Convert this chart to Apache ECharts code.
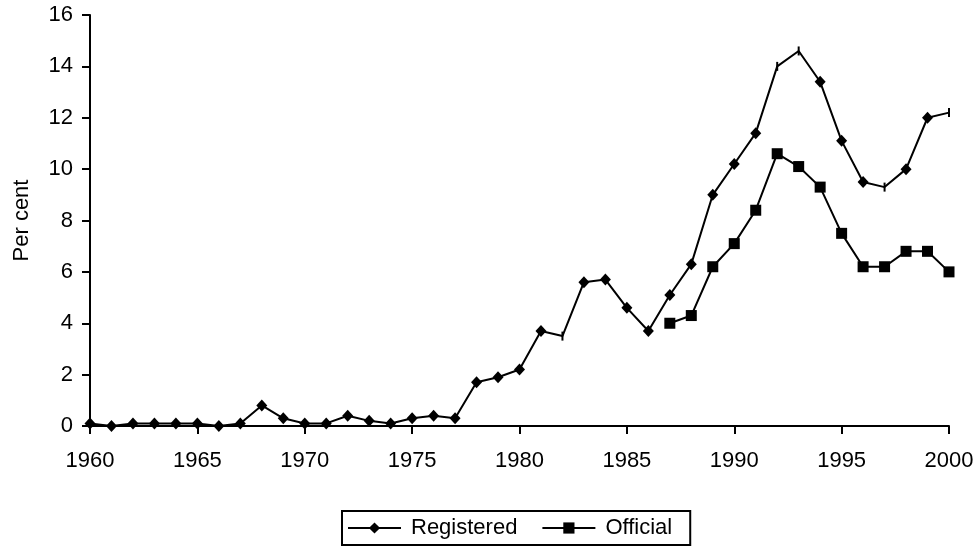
<!DOCTYPE html>
<html>
<head>
<meta charset="utf-8">
<script src="https://cdn.jsdelivr.net/npm/echarts@6/dist/echarts.min.js"></script>
<style>html,body{margin:0;padding:0;background:#fff}#c{width:980px;height:546px}</style>
</head>
<body>
<div id="c"></div>
<script>
const years = [1960,1961,1962,1963,1964,1965,1966,1967,1968,1969,1970,1971,1972,1973,1974,1975,1976,1977,1978,1979,1980,1981,1982,1983,1984,1985,1986,1987,1988,1989,1990,1991,1992,1993,1994,1995,1996,1997,1998,1999,2000];
const registered = [0.1,0.0,0.1,0.1,0.1,0.1,0.0,0.1,0.8,0.3,0.1,0.1,0.4,0.2,0.1,0.3,0.4,0.3,1.7,1.9,2.2,3.7,3.5,5.6,5.7,4.6,3.7,5.1,6.3,9.0,10.2,11.4,14.0,14.6,13.4,11.1,9.5,9.3,10.0,12.0,12.2];
const officialYears = [1987,1988,1989,1990,1991,1992,1993,1994,1995,1996,1997,1998,1999,2000];
const official = [4.0,4.3,6.2,7.1,8.4,10.6,10.1,9.3,7.5,6.2,6.2,6.8,6.8,6.0];
const xTicks = [1960,1965,1970,1975,1980,1985,1990,1995,2000];
const yTicks = [0,2,4,6,8,10,12,14,16];
const seriesNames = ['Registered','Official'];
const yTitle = 'Per cent';

// markers that render as thin vertical ticks in the reference
const thinMarkYears = [1982,1992,1993,1997,2000];

const font = '"Liberation Sans", Arial, sans-serif';
const fs = 22;
const regData = years.map((y,i)=>{
  const d = {value:[y, registered[i]]};
  if (thinMarkYears.indexOf(y) >= 0) { d.symbol = 'rect'; d.symbolSize = [2,9]; }
  return d;
});
const offData = officialYears.map((y,i)=>[y, official[i]]);

const chart = echarts.init(document.getElementById('c'), null, {renderer:'canvas'});
chart.setOption({
  animation:false,
  backgroundColor:'#fff',
  textStyle:{fontFamily:font, color:'#000'},
  grid:{left:90, right:31, top:15, bottom:120, containLabel:false},
  xAxis:{
    type:'value', min:xTicks[0], max:xTicks[xTicks.length-1], interval:5,
    axisLine:{onZero:false, lineStyle:{color:'#000', width:2}},
    axisTick:{show:true, inside:false, length:8, lineStyle:{color:'#000', width:2}},
    axisLabel:{color:'#000', fontSize:fs, fontFamily:font, margin:24, formatter:v=>String(v)},
    splitLine:{show:false}
  },
  yAxis:{
    type:'value', min:yTicks[0], max:yTicks[yTicks.length-1], interval:2,
    name:yTitle, nameLocation:'middle', nameGap:57, nameRotate:90,
    nameTextStyle:{color:'#000', fontSize:fs, fontFamily:font},
    axisLine:{show:true, lineStyle:{color:'#000', width:2}},
    axisTick:{show:true, inside:false, length:8, lineStyle:{color:'#000', width:2}},
    axisLabel:{color:'#000', fontSize:fs, fontFamily:font, margin:17},
    splitLine:{show:false}
  },
  legend:{
    left:342, bottom:1,
    data:seriesNames,
    itemWidth:53, itemHeight:14, itemGap:24,
    padding:[6,18,6,5],
    borderColor:'#000', borderWidth:2, borderRadius:0,
    textStyle:{color:'#000', fontSize:fs, fontFamily:font, padding:[0,0,0,5]}
  },
  series:[
    {name:seriesNames[0], type:'line', data:regData, symbol:'diamond', symbolSize:[11,12],
     lineStyle:{color:'#000', width:2}, itemStyle:{color:'#000'}, showAllSymbol:true, z:3},
    {name:seriesNames[1], type:'line', data:offData, symbol:'rect', symbolSize:11,
     lineStyle:{color:'#000', width:2}, itemStyle:{color:'#000'}, showAllSymbol:true, z:2}
  ]
});
</script>
</body>
</html>
